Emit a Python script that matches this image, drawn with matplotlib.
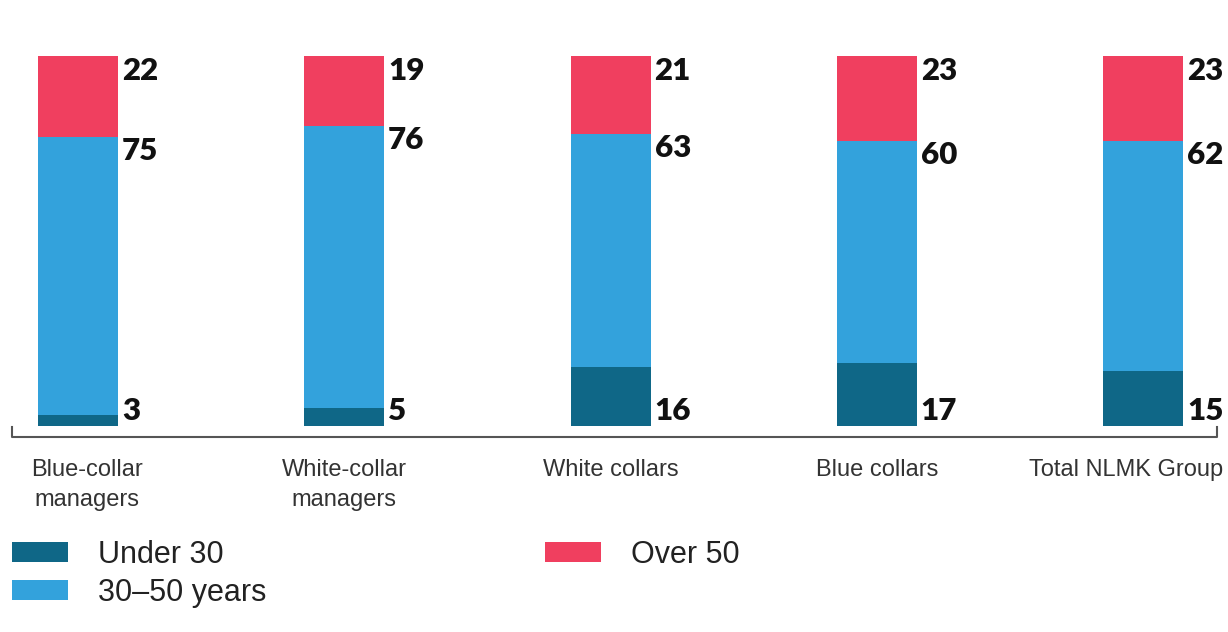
import matplotlib
matplotlib.use("Agg")
import matplotlib.pyplot as plt
from matplotlib.patches import Rectangle
from matplotlib.lines import Line2D

categories = ["Blue-collar\nmanagers", "White-collar\nmanagers", "White collars", "Blue collars", "Total NLMK Group"]
under30 = [3, 5, 16, 17, 15]
mid30_50 = [75, 76, 63, 60, 62]
over50 = [22, 19, 21, 23, 23]
legend_labels = ["Under 30", "30\u201350 years", "Over 50"]

c_dark = "#0f6787"
c_blue = "#33a2dc"
c_red = "#f03f5f"

W, H = 1228, 632
fig = plt.figure(figsize=(W / 100, H / 100), dpi=100)
# axes: bar bottom at y=426px, top at y=56px
ax = fig.add_axes([0, 1 - 426 / H, 1, (426 - 56) / H])
spacing = 266.25
x0 = 78
ax.set_xlim(-x0 / spacing, (W - x0) / spacing)
ax.set_ylim(0, 100)
ax.axis("off")

xs = list(range(len(categories)))
bw = 80 / spacing
ax.bar(xs, under30, width=bw, color=c_dark)
ax.bar(xs, mid30_50, width=bw, bottom=under30, color=c_blue)
b2 = [a + b for a, b in zip(under30, mid30_50)]
ax.bar(xs, over50, width=bw, bottom=b2, color=c_red)

upx = 100 / 370.0  # data units per pixel
num_font = dict(fontsize=22.5, fontweight="heavy", family=["Lato", "DejaVu Sans"], color="#111111")
for i in xs:
    tx = i + bw / 2 + 4 / spacing
    top = under30[i] + mid30_50[i] + over50[i]
    ax.text(tx, top - 24 * upx, str(over50[i]), ha="left", va="baseline", **num_font)
    ax.text(tx, b2[i] - 23 * upx, str(mid30_50[i]), ha="left", va="baseline", **num_font)
    ax.text(tx, 6 * upx, str(under30[i]), ha="left", va="baseline", **num_font)

# bracket axis line
xl = (12 - x0) / spacing
xr = (1217 - x0) / spacing
yl = -11 * upx
yt = -1 * upx
ax.add_line(Line2D([xl, xl, xr, xr], [yt, yl, yl, yt], color="#555555", lw=1.5, clip_on=False))

cat_font = dict(fontsize=17, family=["Liberation Sans", "DejaVu Sans"], color="#333333", linespacing=1.45)
ytxt = -33 * upx
for i, c in enumerate(categories):
    if i == len(categories) - 1:
        ax.text(xr + 6 / spacing, ytxt, c, ha="right", va="top", **cat_font)
    elif i == 0:
        ax.text(i + 9 / spacing, ytxt, c, ha="center", va="top", multialignment="center", **cat_font)
    else:
        ax.text(i, ytxt, c, ha="center", va="top", multialignment="center", **cat_font)

# legend (manual)
leg_font = dict(fontsize=22, family=["Liberation Sans", "DejaVu Sans"], color="#222222", va="center", ha="left")
items = [(legend_labels[0], c_dark, 12, 552), (legend_labels[1], c_blue, 12, 590), (legend_labels[2], c_red, 545, 552)]
for lab, col, px, py in items:
    fig.patches.append(Rectangle((px / W, 1 - (py + 10) / H), 56 / W, 20 / H,
                                 transform=fig.transFigure, facecolor=col, edgecolor="none"))
    fig.text((px + 86) / W, 1 - (py + 3) / H, lab, **leg_font)

fig.savefig("out.png", dpi=100)
